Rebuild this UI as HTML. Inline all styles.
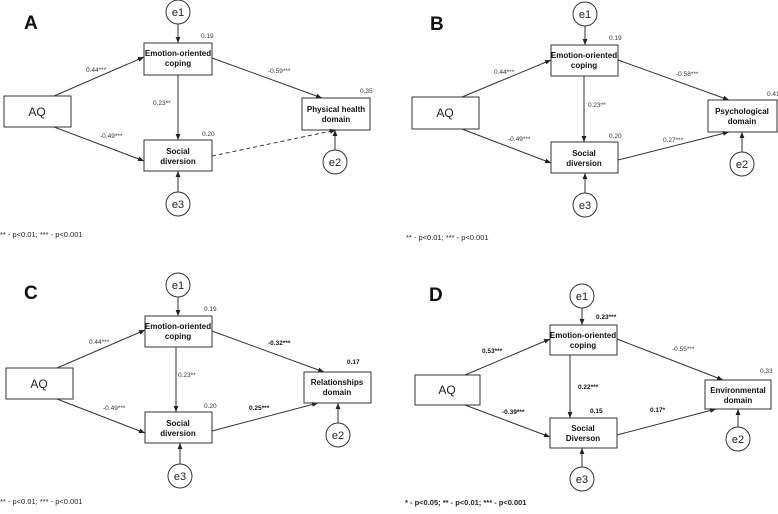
<!DOCTYPE html>
<html><head><meta charset="utf-8"><style>
html,body{margin:0;padding:0;background:#fff;}
svg{display:block;font-family:"Liberation Sans",sans-serif;}
.b{fill:#fff;stroke:#333;stroke-width:1;}
.l{stroke:#333;stroke-width:1;fill:none;}
.t{font-size:8px;font-weight:bold;fill:#111;}
.s{font-size:6.5px;fill:#333;}
.sb{font-size:6.5px;fill:#111;font-weight:bold;}
.aq{font-size:12px;fill:#222;}
.e{font-size:11px;fill:#222;}
.P{font-size:19px;font-weight:bold;fill:#111;}
.n{font-size:7.5px;fill:#222;}
</style></head><body>
<svg width="778" height="514" viewBox="0 0 778 514">
<defs><marker id="a" viewBox="0 0 10 10" refX="10" refY="5" markerWidth="6" markerHeight="6" orient="auto"><path d="M0,1L10,5L0,9z" fill="#222"/></marker></defs>

<!-- A -->
<text x="24" y="29" class="P">A</text>
<circle cx="178" cy="12" r="12" class="b"/><text x="178" y="16" class="e" text-anchor="middle">e1</text>
<line x1="178" y1="24" x2="178" y2="43" class="l" marker-end="url(#a)"/>
<rect x="144" y="43" width="68" height="32" class="b"/>
<text x="178" y="56" class="t" text-anchor="middle">Emotion-oriented</text><text x="178" y="66" class="t" text-anchor="middle">coping</text>
<text x="201" y="38" class="s">0.19</text>
<rect x="4" y="96" width="67" height="31" class="b"/><text x="37" y="116" class="aq" text-anchor="middle">AQ</text>
<rect x="302" y="98" width="68" height="32" class="b"/>
<text x="336" y="112" class="t" text-anchor="middle">Physical health</text><text x="336" y="122" class="t" text-anchor="middle">domain</text>
<text x="360" y="93" class="s">0.35</text>
<rect x="144" y="140" width="68" height="31" class="b"/>
<text x="178" y="154" class="t" text-anchor="middle">Social</text><text x="178" y="164" class="t" text-anchor="middle">diversion</text>
<text x="202" y="136" class="s">0.20</text>
<circle cx="178" cy="204" r="12" class="b"/><text x="178" y="208" class="e" text-anchor="middle">e3</text>
<line x1="178" y1="192" x2="178" y2="171" class="l" marker-end="url(#a)"/>
<circle cx="335" cy="162" r="12" class="b"/><text x="335" y="166" class="e" text-anchor="middle">e2</text>
<line x1="335" y1="150" x2="335" y2="130" class="l" marker-end="url(#a)"/>
<line x1="54" y1="96" x2="144" y2="57" class="l" marker-end="url(#a)"/>
<line x1="54" y1="127" x2="144" y2="161" class="l" marker-end="url(#a)"/>
<line x1="178" y1="75" x2="178" y2="140" class="l" marker-end="url(#a)"/>
<line x1="212" y1="58" x2="322" y2="98" class="l" marker-end="url(#a)"/>
<line x1="212" y1="156" x2="336" y2="130" class="l" stroke-dasharray="4,3" marker-end="url(#a)"/>
<text x="86" y="72" class="s">0.44***</text>
<text x="268" y="73" class="s">-0.59***</text>
<text x="153" y="105" class="s">0.23**</text>
<text x="100" y="138" class="s">-0.49***</text>
<text x="0" y="237" class="n">** - p&lt;0.01; *** - p&lt;0.001</text>

<!-- B -->
<text x="430" y="30" class="P">B</text>
<circle cx="585" cy="14" r="12" class="b"/><text x="585" y="18" class="e" text-anchor="middle">e1</text>
<line x1="585" y1="26" x2="585" y2="45" class="l" marker-end="url(#a)"/>
<rect x="551" y="45" width="67" height="31" class="b"/>
<text x="584" y="58" class="t" text-anchor="middle">Emotion-oriented</text><text x="584" y="68" class="t" text-anchor="middle">coping</text>
<text x="609" y="40" class="s">0.19</text>
<rect x="412" y="97" width="67" height="32" class="b"/><text x="445" y="117" class="aq" text-anchor="middle">AQ</text>
<rect x="708" y="100" width="69" height="32" class="b"/>
<text x="742" y="114" class="t" text-anchor="middle">Psychological</text><text x="742" y="124" class="t" text-anchor="middle">domain</text>
<text x="767" y="96" class="s">0.41</text>
<rect x="551" y="142" width="67" height="31" class="b"/>
<text x="584" y="156" class="t" text-anchor="middle">Social</text><text x="584" y="166" class="t" text-anchor="middle">diversion</text>
<text x="609" y="138" class="s">0.20</text>
<circle cx="585" cy="205" r="12" class="b"/><text x="585" y="209" class="e" text-anchor="middle">e3</text>
<line x1="585" y1="193" x2="585" y2="173" class="l" marker-end="url(#a)"/>
<circle cx="742" cy="164" r="12" class="b"/><text x="742" y="168" class="e" text-anchor="middle">e2</text>
<line x1="742" y1="152" x2="742" y2="132" class="l" marker-end="url(#a)"/>
<line x1="462" y1="97" x2="551" y2="60" class="l" marker-end="url(#a)"/>
<line x1="462" y1="129" x2="551" y2="163" class="l" marker-end="url(#a)"/>
<line x1="584" y1="76" x2="584" y2="142" class="l" marker-end="url(#a)"/>
<line x1="618" y1="60" x2="729" y2="100" class="l" marker-end="url(#a)"/>
<line x1="618" y1="160" x2="729" y2="132" class="l" marker-end="url(#a)"/>
<text x="494" y="74" class="s">0.44***</text>
<text x="676" y="76" class="s">-0.58***</text>
<text x="588" y="107" class="s">0.23**</text>
<text x="508" y="141" class="s">-0.49***</text>
<text x="663" y="142" class="s">0.27***</text>
<text x="406" y="240" class="n">** - p&lt;0.01; *** - p&lt;0.001</text>

<!-- C -->
<text x="24" y="299" class="P">C</text>
<circle cx="178" cy="285" r="12" class="b"/><text x="178" y="289" class="e" text-anchor="middle">e1</text>
<line x1="178" y1="297" x2="178" y2="316" class="l" marker-end="url(#a)"/>
<rect x="145" y="316" width="67" height="31" class="b"/>
<text x="178" y="329" class="t" text-anchor="middle">Emotion-oriented</text><text x="178" y="339" class="t" text-anchor="middle">coping</text>
<text x="204" y="311" class="s">0.19</text>
<rect x="6" y="368" width="67" height="31" class="b"/><text x="39" y="388" class="aq" text-anchor="middle">AQ</text>
<rect x="304" y="372" width="67" height="31" class="b"/>
<text x="337" y="385" class="t" text-anchor="middle">Relationships</text><text x="337" y="395" class="t" text-anchor="middle">domain</text>
<text x="347" y="364" class="sb">0.17</text>
<rect x="145" y="412" width="67" height="31" class="b"/>
<text x="178" y="426" class="t" text-anchor="middle">Social</text><text x="178" y="436" class="t" text-anchor="middle">diversion</text>
<text x="204" y="408" class="s">0.20</text>
<circle cx="180" cy="476" r="12" class="b"/><text x="180" y="480" class="e" text-anchor="middle">e3</text>
<line x1="180" y1="464" x2="180" y2="443" class="l" marker-end="url(#a)"/>
<circle cx="338" cy="435" r="12" class="b"/><text x="338" y="439" class="e" text-anchor="middle">e2</text>
<line x1="338" y1="423" x2="338" y2="403" class="l" marker-end="url(#a)"/>
<line x1="57" y1="368" x2="145" y2="330" class="l" marker-end="url(#a)"/>
<line x1="57" y1="399" x2="145" y2="433" class="l" marker-end="url(#a)"/>
<line x1="176" y1="347" x2="176" y2="412" class="l" marker-end="url(#a)"/>
<line x1="212" y1="331" x2="324" y2="372" class="l" marker-end="url(#a)"/>
<line x1="212" y1="431" x2="318" y2="403" class="l" marker-end="url(#a)"/>
<text x="89" y="344" class="s">0.44***</text>
<text x="268" y="345" class="sb">-0.32***</text>
<text x="178" y="377" class="s">0.23**</text>
<text x="103" y="410" class="s">-0.49***</text>
<text x="249" y="410" class="sb">0.25***</text>
<text x="0" y="504" class="n">** - p&lt;0.01; *** - p&lt;0.001</text>

<!-- D -->
<text x="429" y="301" class="P">D</text>
<circle cx="582" cy="296" r="12" class="b"/><text x="582" y="300" class="e" text-anchor="middle">e1</text>
<line x1="582" y1="308" x2="582" y2="325" class="l" marker-end="url(#a)"/>
<rect x="550" y="325" width="67" height="30" class="b"/>
<text x="583" y="338" class="t" text-anchor="middle">Emotion-oriented</text><text x="583" y="348" class="t" text-anchor="middle">coping</text>
<text x="596" y="319" class="sb">0.23***</text>
<rect x="415" y="375" width="65" height="30" class="b"/><text x="447" y="394" class="aq" text-anchor="middle">AQ</text>
<rect x="705" y="380" width="66" height="29" class="b"/>
<text x="738" y="393" class="t" text-anchor="middle">Environmental</text><text x="738" y="403" class="t" text-anchor="middle">domain</text>
<text x="760" y="373" class="s">0.33</text>
<rect x="550" y="418" width="67" height="30" class="b"/>
<text x="583" y="431" class="t" text-anchor="middle">Social</text><text x="583" y="441" class="t" text-anchor="middle">Diverson</text>
<text x="590" y="413" class="sb">0.15</text>
<circle cx="582" cy="479" r="12" class="b"/><text x="582" y="483" class="e" text-anchor="middle">e3</text>
<line x1="582" y1="467" x2="582" y2="448" class="l" marker-end="url(#a)"/>
<circle cx="738" cy="439" r="12" class="b"/><text x="738" y="443" class="e" text-anchor="middle">e2</text>
<line x1="738" y1="427" x2="738" y2="409" class="l" marker-end="url(#a)"/>
<line x1="465" y1="375" x2="550" y2="339" class="l" marker-end="url(#a)"/>
<line x1="465" y1="405" x2="550" y2="437" class="l" marker-end="url(#a)"/>
<line x1="570" y1="355" x2="570" y2="418" class="l" marker-end="url(#a)"/>
<line x1="617" y1="339" x2="723" y2="380" class="l" marker-end="url(#a)"/>
<line x1="617" y1="435" x2="716" y2="409" class="l" marker-end="url(#a)"/>
<text x="482" y="353" class="sb">0.53***</text>
<text x="672" y="351" class="s">-0.55***</text>
<text x="578" y="389" class="sb">0.22***</text>
<text x="502" y="414" class="sb">-0.39***</text>
<text x="650" y="412" class="sb">0.17*</text>
<text x="405" y="505" class="n" style="font-weight:bold">* - p&lt;0.05; ** - p&lt;0.01; *** - p&lt;0.001</text>
</svg>
</body></html>
